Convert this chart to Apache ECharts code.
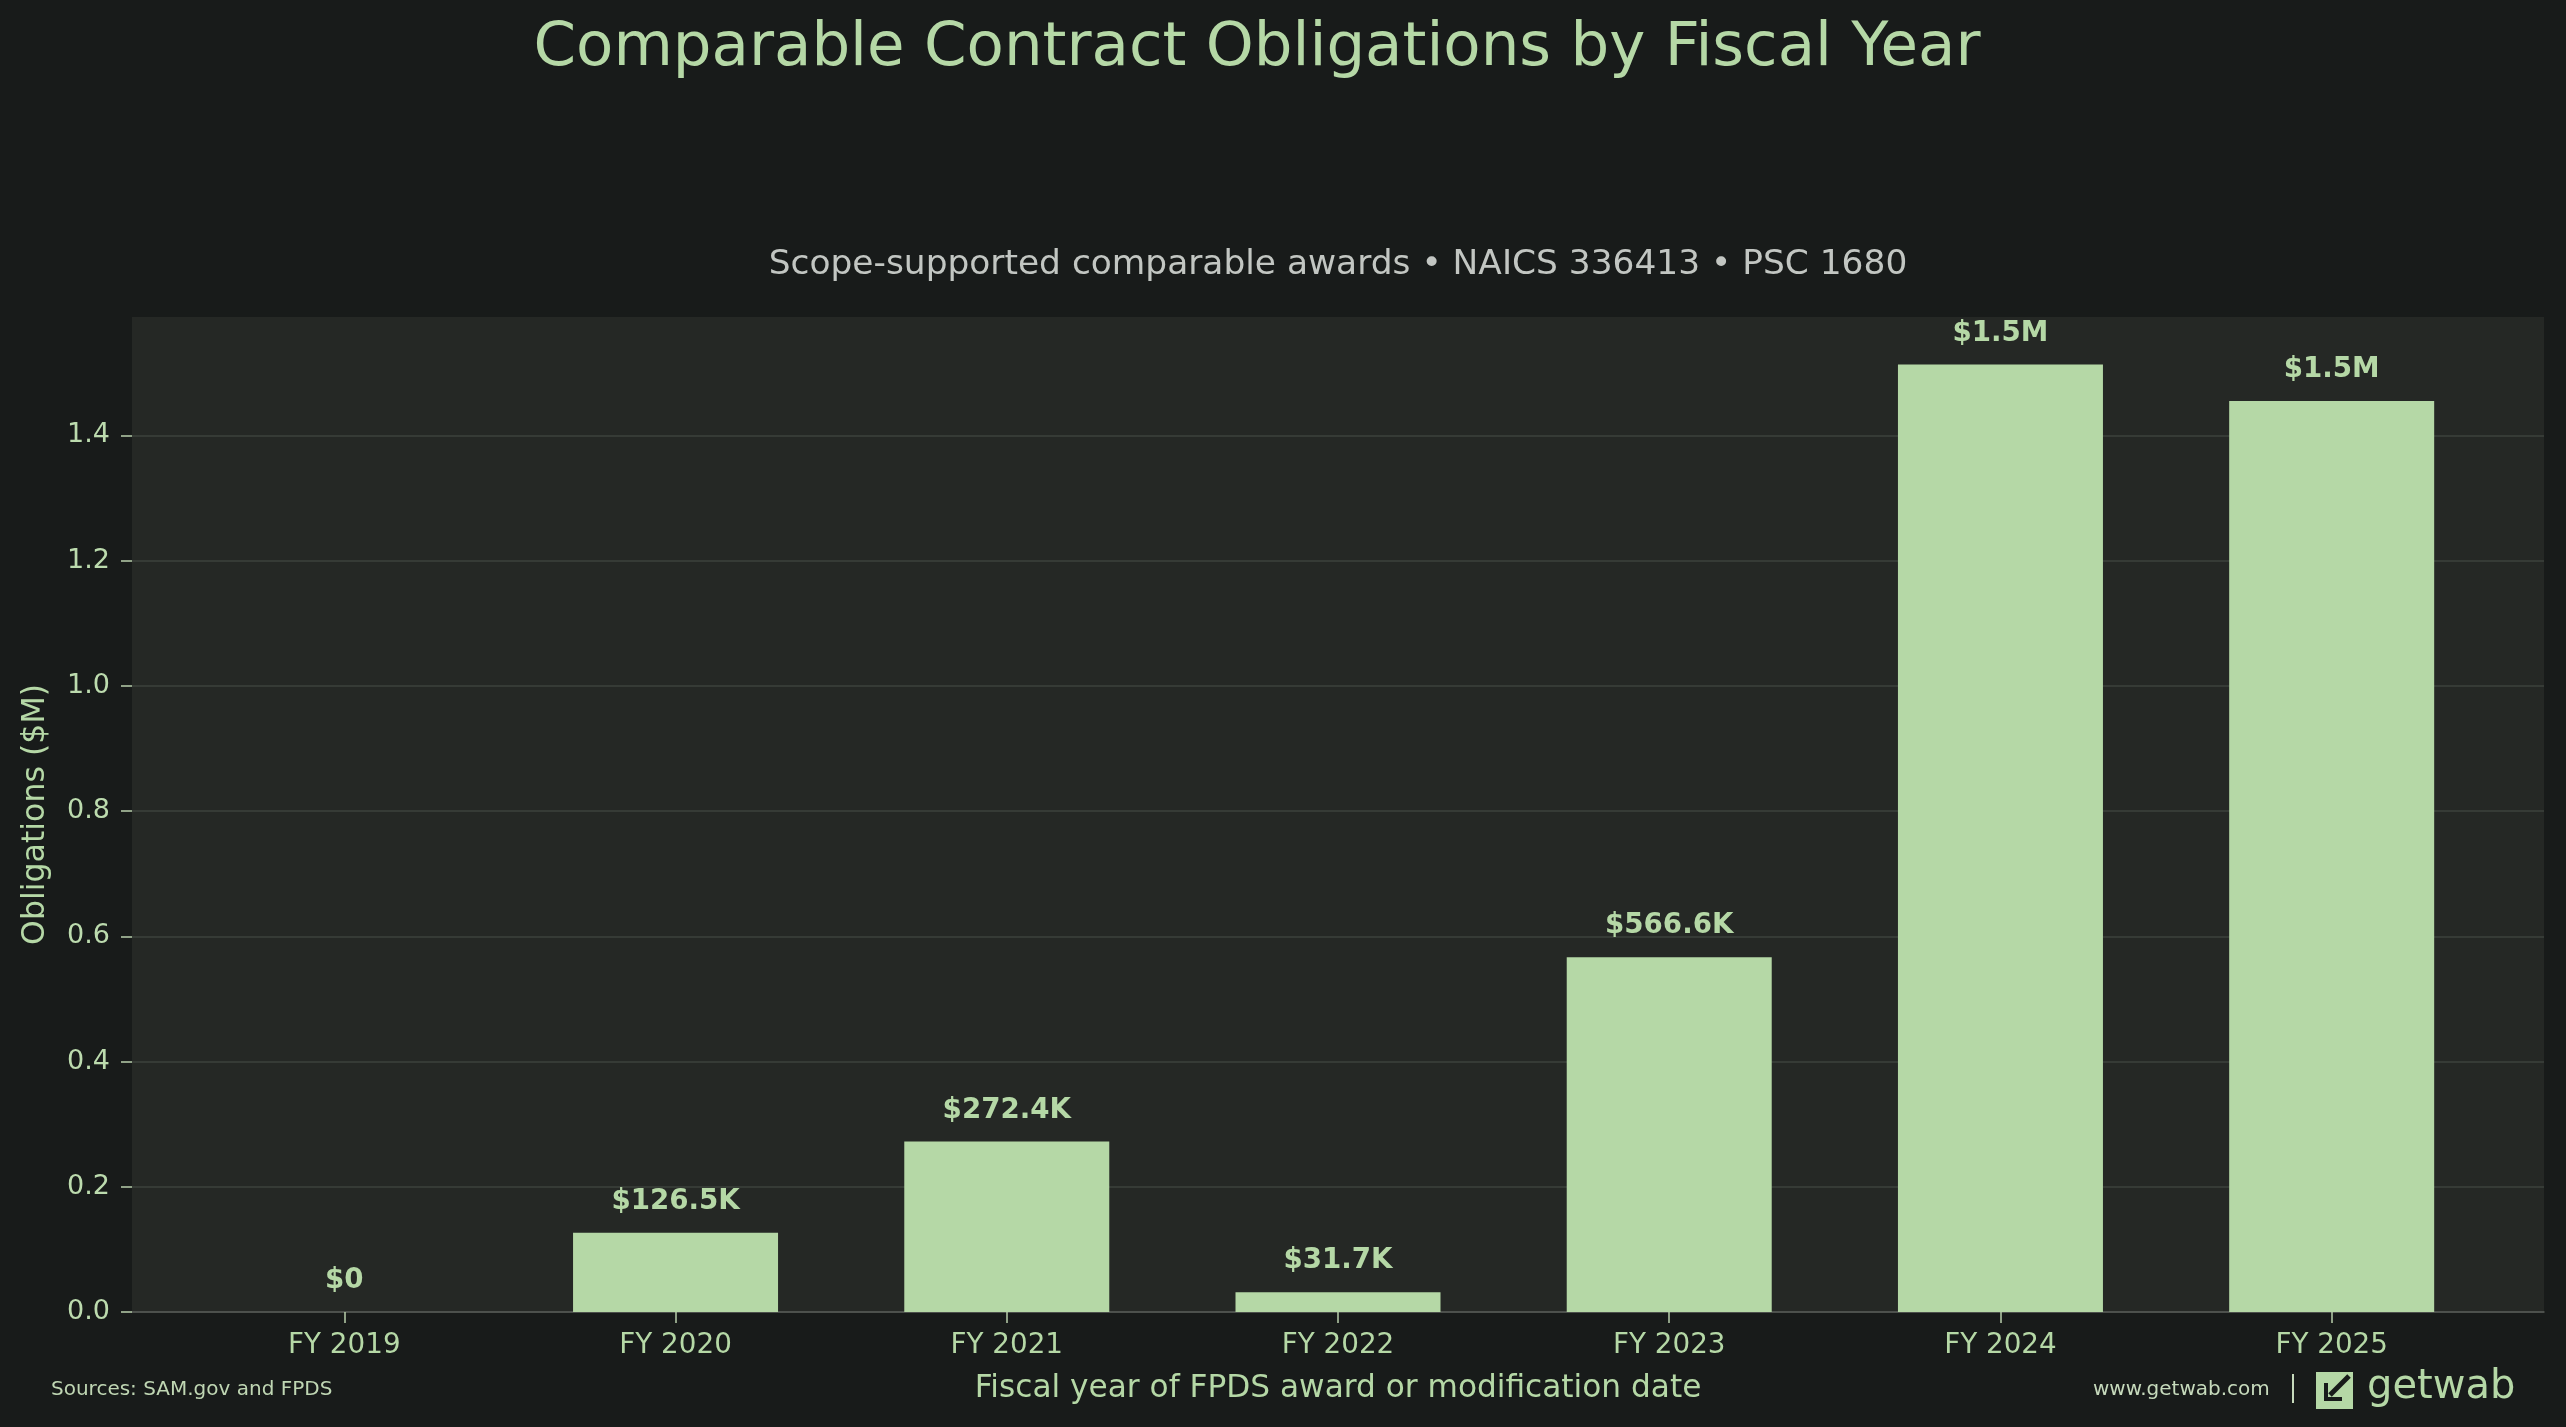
<!DOCTYPE html>
<html>
<head>
<meta charset="utf-8">
<title>Comparable Contract Obligations by Fiscal Year</title>
<script src="https://cdn.jsdelivr.net/npm/echarts@6/dist/echarts.min.js"></script>
<style>
    html, body { margin: 0; padding: 0; background: #181b1a; }
    #chart { width: 2566px; height: 1427px; }
</style>
</head>
<body>
<div id="chart"></div>
<script>
// data
var fiscal_years = ["FY 2019", "FY 2020", "FY 2021", "FY 2022", "FY 2023", "FY 2024", "FY 2025"];
var obligations_m = [0, 0.1265, 0.2724, 0.0317, 0.5666, 1.513, 1.455];
var value_labels = ["$0", "$126.5K", "$272.4K", "$31.7K", "$566.6K", "$1.5M", "$1.5M"];
var y_ticks = [0, 0.2, 0.4, 0.6, 0.8, 1.0, 1.2, 1.4];

var green = "#b5d8a6";
var font = "DejaVu Sans";

var myChart = echarts.init(document.getElementById("chart"));

// bars sit on a value x axis so the plot can run past the outer bars
var x_ticks = [];
var bar_data = [];
for (let i = 0; i < fiscal_years.length; i++) {
    x_ticks.push(i);
    bar_data.push([i, obligations_m[i]]);
}

var option = {
    backgroundColor: "#181b1a",
    animation: false,
    title: [
        {
            text: "Comparable Contract Obligations by Fiscal Year",
            left: 1252,
            top: 14,
            textAlign: "center",
            textStyle: { color: green, fontFamily: font, fontWeight: "normal", fontSize: 61 },
        },
        {
            text: "Scope-supported comparable awards \u2022 NAICS 336413 \u2022 PSC 1680",
            left: 1333,
            top: 243,
            textAlign: "center",
            textStyle: { color: "#c2c6c2", fontFamily: font, fontWeight: "normal", fontSize: 34.4 },
        },
    ],
    grid: {
        left: 132,
        right: 22,
        top: 317,
        bottom: 115,
        show: true,
        backgroundColor: "#252825",
        borderWidth: 0,
    },
    xAxis: {
        type: "value",
        min: -0.641,
        max: 6.641,
        name: "Fiscal year of FPDS award or modification date",
        nameLocation: "middle",
        nameGap: 61,
        nameTextStyle: { color: green, fontFamily: font, fontSize: 31.2 },
        axisLine: { show: true, onZero: false, lineStyle: { color: "#555a55", width: 1.5 } },
        axisTick: { show: true, length: 11, customValues: x_ticks, lineStyle: { color: "#b8d0ac", width: 1.5 } },
        axisLabel: {
            customValues: x_ticks,
            margin: 20,
            color: green,
            fontFamily: font,
            fontSize: 27.8,
            formatter: function (v) {
                return fiscal_years[Math.round(v)];
            },
        },
        splitLine: { show: false },
    },
    yAxis: {
        type: "value",
        min: 0,
        max: 1.589,
        name: "Obligations ($M)",
        nameLocation: "middle",
        nameGap: 80,
        nameTextStyle: { color: green, fontFamily: font, fontSize: 31.6 },
        axisLine: { show: false, onZero: false },
        axisTick: { show: true, length: 11, customValues: y_ticks, lineStyle: { color: "#b8d0ac", width: 1.5 } },
        axisLabel: {
            customValues: y_ticks,
            margin: 22,
            color: "#bcdbae",
            fontFamily: font,
            fontSize: 27,
            formatter: function (v) {
                return v.toFixed(1);
            },
        },
        splitLine: { show: true, lineStyle: { color: "#3d423d", width: 1.5 } },
    },
    series: [
        {
            type: "bar",
            data: bar_data,
            barWidth: 205,
            itemStyle: { color: green },
            label: {
                show: true,
                position: "top",
                distance: 17,
                color: green,
                fontFamily: font,
                fontWeight: "bold",
                fontSize: 27.7,
                formatter: function (p) {
                    return value_labels[p.dataIndex];
                },
            },
        },
    ],
    graphic: [
        {
            type: "text",
            left: 51,
            top: 1380,
            style: { text: "Sources: SAM.gov and FPDS", fill: "#bfd6b3", font: "20px DejaVu Sans" },
        },
        {
            type: "text",
            left: 2093,
            top: 1380,
            style: { text: "www.getwab.com", fill: "#c6dabc", font: "20px DejaVu Sans" },
        },
        {
            type: "line",
            shape: { x1: 2293, y1: 1374, x2: 2293, y2: 1403 },
            style: { stroke: "#c6dabc", lineWidth: 2 },
        },
        {
            type: "rect",
            shape: { x: 2316, y: 1372, width: 37, height: 37 },
            style: { fill: green },
        },
        {
            type: "polyline",
            shape: { points: [[2349, 1376], [2330, 1395]] },
            style: { stroke: "#181b1a", lineWidth: 5 },
        },
        {
            type: "polyline",
            shape: { points: [[2326, 1383], [2326, 1399], [2342, 1399]] },
            style: { stroke: "#181b1a", lineWidth: 4, fill: null },
        },
        {
            type: "text",
            left: 2367,
            top: 1368,
            style: { text: "getwab", fill: green, font: "40px DejaVu Sans" },
        },
    ],
};

myChart.setOption(option);
</script>
</body>
</html>
